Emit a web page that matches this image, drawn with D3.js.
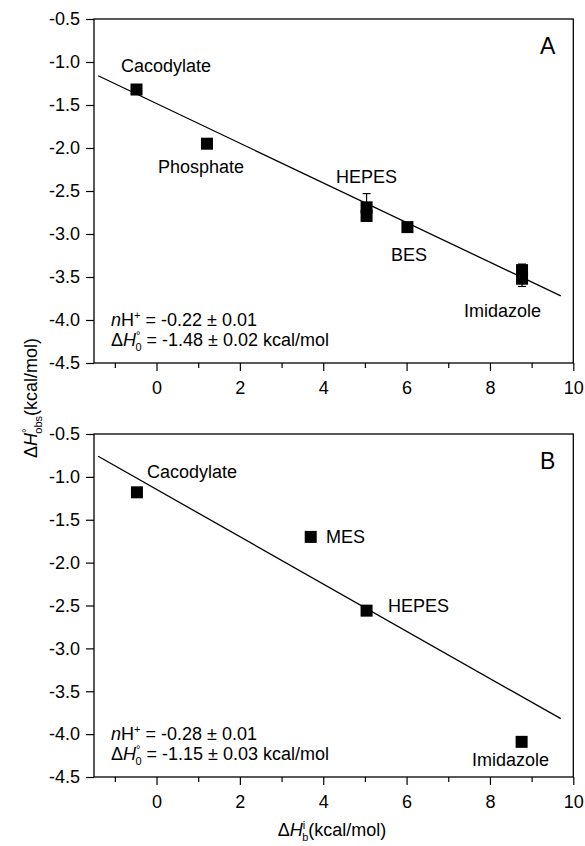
<!DOCTYPE html>
<html>
<head>
<meta charset="utf-8">
<script src="https://cdn.jsdelivr.net/npm/d3@7"></script>
<style>
  body { margin: 0; background: #fff; }
  svg { font-family: "Liberation Sans", Arial, sans-serif; }
</style>
</head>
<body>
<script>
// panel A data
const namesA = ['Cacodylate', 'Phosphate', 'HEPES', 'HEPES', 'BES', 'Imidazole', 'Imidazole']
const xA = [-0.48, 1.21, 5.04, 5.04, 6.02, 8.77, 8.77]
const yA = [-1.32, -1.95, -2.69, -2.79, -2.92, -3.42, -3.52]
const errA = [0, 0, 0.16, 0.04, 0, 0.07, 0.09]
const fitXA = [-1.4, 9.7]
const fitYA = [-1.16, -3.72]

// panel B data
const namesB = ['Cacodylate', 'MES', 'HEPES', 'Imidazole']
const xB = [-0.47, 3.70, 5.04, 8.76]
const yB = [-1.18, -1.70, -2.56, -4.09]
const fitXB = [-1.4, 9.7]
const fitYB = [-0.76, -3.82]

const xTicks = [0, 2, 4, 6, 8, 10]
const xMinor = [-1, 1, 3, 5, 7, 9]
const yTicks = [-0.5, -1.0, -1.5, -2.0, -2.5, -3.0, -3.5, -4.0, -4.5]

const width = 585
const height = 846
const fs = 18

const svg = d3.select('body').append('svg')
  .attr('width', width)
  .attr('height', height)

const xScale = d3.scaleLinear().domain([-1.5, 10]).range([94, 573.3])

function panel (top, bottom, d) {
  const yScale = d3.scaleLinear().domain([-4.5, -0.5]).range([bottom, top])
  const g = svg.append('g')

  // frame
  g.append('rect')
    .attr('x', xScale(-1.5))
    .attr('y', top)
    .attr('width', xScale(10) - xScale(-1.5))
    .attr('height', bottom - top)
    .attr('fill', 'none')
    .attr('stroke', '#000')
    .attr('stroke-width', 1.3)

  // x axis
  g.append('g')
    .attr('transform', 'translate(0,' + bottom + ')')
    .call(d3.axisBottom(xScale).tickValues(xTicks).tickSize(8).tickPadding(10).tickFormat(d3.format('d')))
  g.append('g')
    .attr('transform', 'translate(0,' + bottom + ')')
    .call(d3.axisBottom(xScale).tickValues(xMinor).tickSize(5).tickFormat(''))
    .select('.domain').remove()

  // y axis
  g.append('g')
    .attr('transform', 'translate(' + xScale(-1.5) + ',0)')
    .call(d3.axisLeft(yScale).tickValues(yTicks).tickSize(8).tickPadding(6).tickFormat(d3.format('.1f')))

  g.selectAll('.domain').remove()
  g.selectAll('.tick line').attr('stroke', '#000').attr('stroke-width', 1.2)
  g.selectAll('.tick text')
    .attr('font-size', fs)
    .attr('font-family', '"Liberation Sans", Arial, sans-serif')
    .attr('fill', '#000')
    .text(function () { return d3.select(this).text().replace('\u2212', '-') })

  // fit line
  g.append('line')
    .attr('x1', xScale(d.fitX[0]))
    .attr('y1', yScale(d.fitY[0]))
    .attr('x2', xScale(d.fitX[1]))
    .attr('y2', yScale(d.fitY[1]))
    .attr('stroke', '#000')
    .attr('stroke-width', 1.3)

  // error bars
  d.x.forEach((xv, i) => {
    const e = d.err ? d.err[i] : 0
    if (!e) return
    const cx = xScale(xv)
    g.append('line')
      .attr('x1', cx).attr('x2', cx)
      .attr('y1', yScale(d.y[i] + e)).attr('y2', yScale(d.y[i] - e))
      .attr('stroke', '#000').attr('stroke-width', 1.2)
    ;[d.y[i] + e, d.y[i] - e].forEach(v => {
      g.append('line')
        .attr('x1', cx - 4).attr('x2', cx + 4)
        .attr('y1', yScale(v)).attr('y2', yScale(v))
        .attr('stroke', '#000').attr('stroke-width', 1.2)
    })
  })

  // markers
  const ms = 12
  g.selectAll('rect.pt')
    .data(d.x)
    .enter()
    .append('rect')
    .attr('class', 'pt')
    .attr('x', (xv) => xScale(xv) - ms / 2)
    .attr('y', (xv, i) => yScale(d.y[i]) - ms / 2)
    .attr('width', ms)
    .attr('height', ms)
    .attr('fill', '#000')

  // labels
  d.labels.forEach(l => {
    g.append('text')
      .attr('x', l.x)
      .attr('y', l.y)
      .attr('font-size', fs)
      .text(l.t)
  })

  // panel letter
  g.append('text')
    .attr('x', 540)
    .attr('y', top + 35)
    .attr('font-size', 23)
    .text(d.letter)

  // fit annotation
  const t1 = g.append('text').attr('x', 111).attr('y', bottom - 37).attr('font-size', fs)
  t1.append('tspan').attr('font-style', 'italic').text('n')
  t1.append('tspan').text('H')
  t1.append('tspan').attr('font-size', 11).attr('dy', -7).text('+')
  t1.append('tspan').attr('dy', 7).text(' = ' + d.nH)

  const t2 = g.append('text').attr('x', 111).attr('y', bottom - 17).attr('font-size', fs)
  t2.append('tspan').text('\u0394')
  t2.append('tspan').attr('font-style', 'italic').text('H')
  t2.append('tspan').attr('font-size', 11).attr('dy', -7).text('\u00b0')
  t2.append('tspan').attr('font-size', 11).attr('dx', -5).attr('dy', 12).text('0')
  t2.append('tspan').attr('dy', -5).text(' = ' + d.dH0)
}

panel(19, 363, {
  x: xA, y: yA, err: errA, fitX: fitXA, fitY: fitYA, letter: 'A',
  nH: '-0.22 \u00b1 0.01', dH0: '-1.48 \u00b1 0.02 kcal/mol',
  labels: [
    { t: namesA[0], x: 121, y: 72 },
    { t: namesA[1], x: 158, y: 173 },
    { t: namesA[2], x: 336, y: 183 },
    { t: namesA[4], x: 391, y: 261 },
    { t: namesA[5], x: 464, y: 317 }
  ]
})

panel(434, 777, {
  x: xB, y: yB, err: null, fitX: fitXB, fitY: fitYB, letter: 'B',
  nH: '-0.28 \u00b1 0.01', dH0: '-1.15 \u00b1 0.03 kcal/mol',
  labels: [
    { t: namesB[0], x: 147, y: 478 },
    { t: namesB[1], x: 326, y: 543 },
    { t: namesB[2], x: 388, y: 612 },
    { t: namesB[3], x: 472, y: 766 }
  ]
})

// y axis title
const yt = svg.append('text')
  .attr('transform', 'translate(37,398) rotate(-90)')
  .attr('text-anchor', 'middle')
  .attr('font-size', fs)
yt.append('tspan').text('\u0394')
yt.append('tspan').attr('font-style', 'italic').text('H')
yt.append('tspan').attr('font-size', 11).attr('dy', -7).text('\u00b0')
yt.append('tspan').attr('font-size', 11).attr('dx', -5).attr('dy', 12).text('obs')
yt.append('tspan').attr('dy', -5).text('(kcal/mol)')

// x axis title
const xt = svg.append('text')
  .attr('x', 332)
  .attr('y', 836)
  .attr('text-anchor', 'middle')
  .attr('font-size', fs)
xt.append('tspan').text('\u0394')
xt.append('tspan').attr('font-style', 'italic').text('H')
xt.append('tspan').attr('font-size', 11).attr('dy', -7).text('i')
xt.append('tspan').attr('font-size', 11).attr('dx', -3).attr('dy', 12).text('b')
xt.append('tspan').attr('dy', -5).text('(kcal/mol)')
</script>
</body>
</html>
